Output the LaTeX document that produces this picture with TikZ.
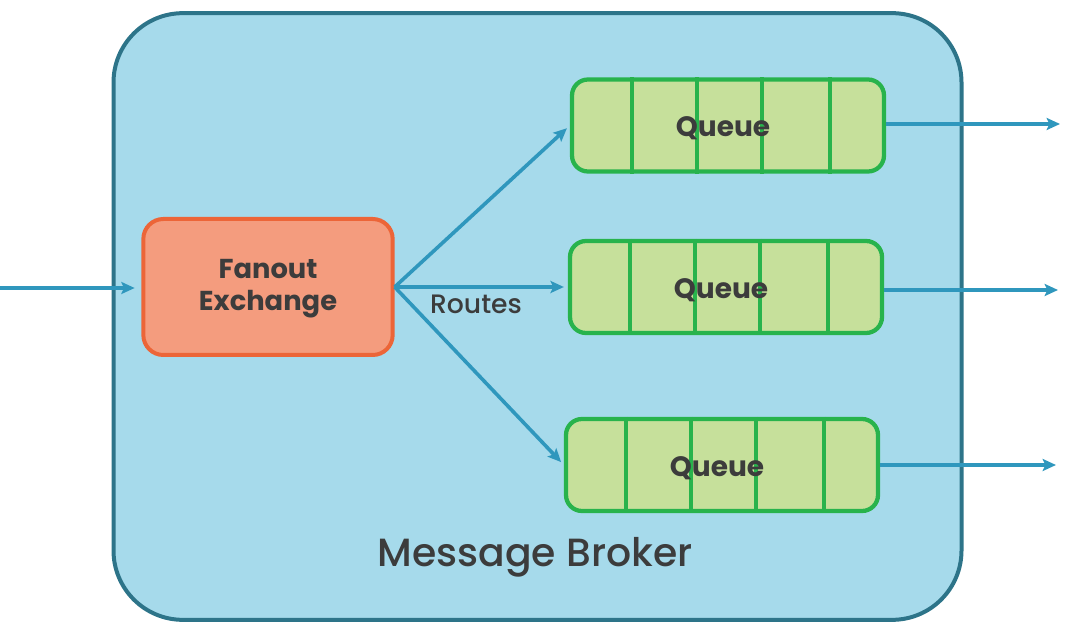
\documentclass[tikz,border=0pt]{standalone}
\usepackage{fontspec}
\setmainfont{Poppins}[BoldFont={* Bold}]
\newfontfamily\medfont{Poppins Medium}
\usetikzlibrary{arrows.meta,calc}
\definecolor{brokerfill}{HTML}{A6DAEB}
\definecolor{brokerline}{HTML}{2D7489}
\definecolor{arrowc}{HTML}{2F97BD}
\definecolor{qfill}{HTML}{C6E09B}
\definecolor{qline}{HTML}{28B34C}
\definecolor{exfill}{HTML}{F49C7E}
\definecolor{exline}{HTML}{EC6538}
\definecolor{txt}{HTML}{3C3C3C}
\tikzset{
  broker/.style={draw=brokerline, fill=brokerfill, line width=3pt, rounded corners=52pt, minimum width=636pt, minimum height=455pt, inner sep=0pt},
  exbox/.style={draw=exline, fill=exfill, line width=3pt, rounded corners=15pt, minimum width=187pt, minimum height=102pt, inner sep=0pt},
  qbox/.style={draw=qline, fill=qfill, line width=3.2pt, rounded corners=12pt, minimum width=234pt, minimum height=69pt, inner sep=0pt},
  divider/.style={draw=qline, line width=3pt},
  flow/.style={draw=arrowc, line width=2.7pt, -{Stealth[length=10pt,width=9pt,inset=2pt]}},
  lbl/.style={text=txt, inner sep=0pt},
}
\begin{document}
\begin{tikzpicture}[x=0.75pt,y=-0.75pt]
\useasboundingbox (0,0) rectangle (1070,630);
\node[broker] (broker) at (537.5,316.5) {};
\node[lbl, font=\fontsize{29.5}{34}\selectfont\medfont] (brokerlbl) at (535,557) {Message Broker};
\node[exbox] (ex) at (268,287) {};
\node[lbl, align=center, font=\fontsize{20.5}{24}\selectfont\bfseries] (exlbl) at ($(ex)+(0,2)$) {Fanout\\[0pt]Exchange};
\node[qbox] (q1) at (728,125.5) {};
\node[qbox] (q2) at (726,287) {};
\node[qbox] (q3) at (722,465) {};
\foreach \q in {q1,q2,q3}{
  \foreach \d in {62,127,192,260}{
    \draw[divider] ($(\q.north west)+(\d,0)$) -- ($(\q.south west)+(\d,0)$);
  }
  \node[lbl, font=\fontsize{21}{24}\selectfont\bfseries] at ($(\q)+(-5,3)$) {Queue};
}
\node[lbl, font=\fontsize{20}{24}\selectfont\medfont] (routes) at (476,304) {Routes};
\coordinate (in) at (0,288);
\coordinate (o1) at (1060,124);
\coordinate (o2) at (1058,290);
\coordinate (o3) at (1056,465);
\draw[flow, shorten >=5pt] (in) -- (ex.west |- in);
\draw[flow, shorten >=3pt] (ex.east) -- (q1.west);
\draw[flow, shorten >=3pt] (ex.east) -- (q2.west);
\draw[flow, shorten >=3pt] (ex.east) -- (q3.west);
\draw[flow] (q1.east |- o1) -- (o1);
\draw[flow] (q2.east |- o2) -- (o2);
\draw[flow] (q3.east |- o3) -- (o3);
\end{tikzpicture}
\end{document}
